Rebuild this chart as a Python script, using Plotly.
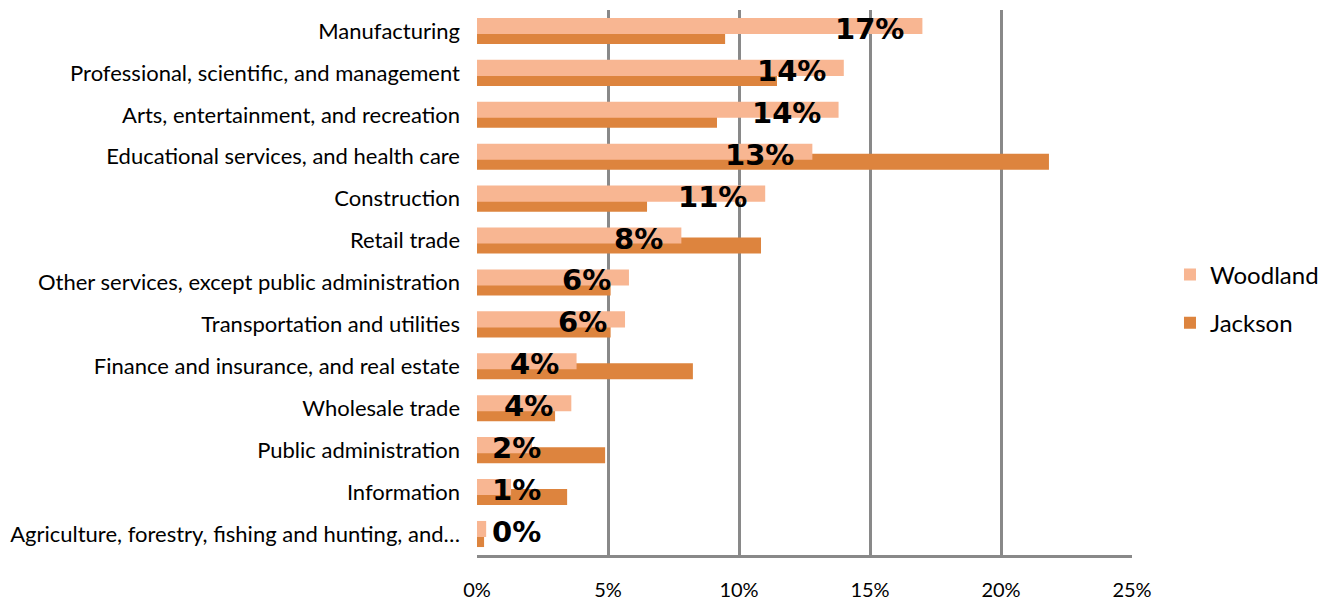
import plotly.graph_objects as go

categories = [
    "Manufacturing",
    "Professional, scientific, and management",
    "Arts, entertainment, and recreation",
    "Educational services, and health care",
    "Construction",
    "Retail trade",
    "Other services, except public administration",
    "Transportation and utilities",
    "Finance and insurance, and real estate",
    "Wholesale trade",
    "Public administration",
    "Information",
    "Agriculture, forestry, fishing and hunting, and\u2026",
]
woodland = [17.0, 14.0, 13.8, 12.8, 11.0, 7.8, 5.8, 5.65, 3.8, 3.6, 2.1, 1.3, 0.35]
jackson = [9.47, 11.45, 9.16, 21.83, 6.49, 10.84, 5.1, 5.1, 8.24, 2.98, 4.89, 3.44, 0.27]
x_ticks = [0, 5, 10, 15, 20, 25]
x_tick_labels = ["0%", "5%", "10%", "15%", "20%", "25%"]

C_WOOD = "#F8B692"
C_JACK = "#DD843E"
GRID = "#898989"
FONT = "Lato, Calibri, sans-serif"
LABEL_FONT = dict(family="DejaVu Sans, Arial", size=29, color="black", weight="bold")

fig = go.Figure()
fig.add_trace(go.Bar(
    y=categories, x=jackson, orientation="h", name="Jackson",
    marker=dict(color=C_JACK, line=dict(width=0)),
    width=0.383, offset=-0.072, legendgroup="j", legendrank=2,
))
fig.add_trace(go.Bar(
    y=categories, x=woodland, orientation="h", name="Woodland",
    marker=dict(color=C_WOOD, line=dict(width=0)),
    width=0.383, offset=-0.311, legendgroup="w", legendrank=1,
))

annotations = []
for cat, v in zip(categories, woodland):
    txt = f"{round(v):.0f}%"
    if v < 3:
        annotations.append(dict(x=0, y=cat, xref="x", yref="y", text=txt,
                                xanchor="left", yanchor="middle", xshift=13, yshift=2,
                                showarrow=False, font=LABEL_FONT))
    else:
        annotations.append(dict(x=v, y=cat, xref="x", yref="y", text=txt,
                                xanchor="right", yanchor="middle", xshift=-16, yshift=2,
                                showarrow=False, font=LABEL_FONT))

fig.update_layout(
    width=1324, height=592,
    margin=dict(l=469, r=200, t=2, b=45, autoexpand=False),
    paper_bgcolor="white", plot_bgcolor="white",
    barmode="overlay",
    showlegend=True,
    legend=dict(x=1.058, y=0.47, xanchor="left", yanchor="middle",
                font=dict(family=FONT, size=24, color="black"),
                tracegroupgap=14, traceorder="grouped"),
    annotations=annotations,
    font=dict(family=FONT, size=22, color="black"),
)
fig.update_xaxes(
    range=[0, 25], tickvals=x_ticks, ticktext=x_tick_labels,
    showgrid=True, gridcolor=GRID, gridwidth=3,
    showline=True, linecolor=GRID, linewidth=3,
    zeroline=False, ticks="", ticklabelstandoff=15, automargin=False,
    tickfont=dict(family=FONT, size=20, color="black"),
)
fig.update_yaxes(
    autorange="reversed", showgrid=False, zeroline=False,
    showline=False, ticks="", ticklabelstandoff=16, automargin=False,
    tickfont=dict(family=FONT, size=22, color="black"),
)

fig.write_html("out.html")
